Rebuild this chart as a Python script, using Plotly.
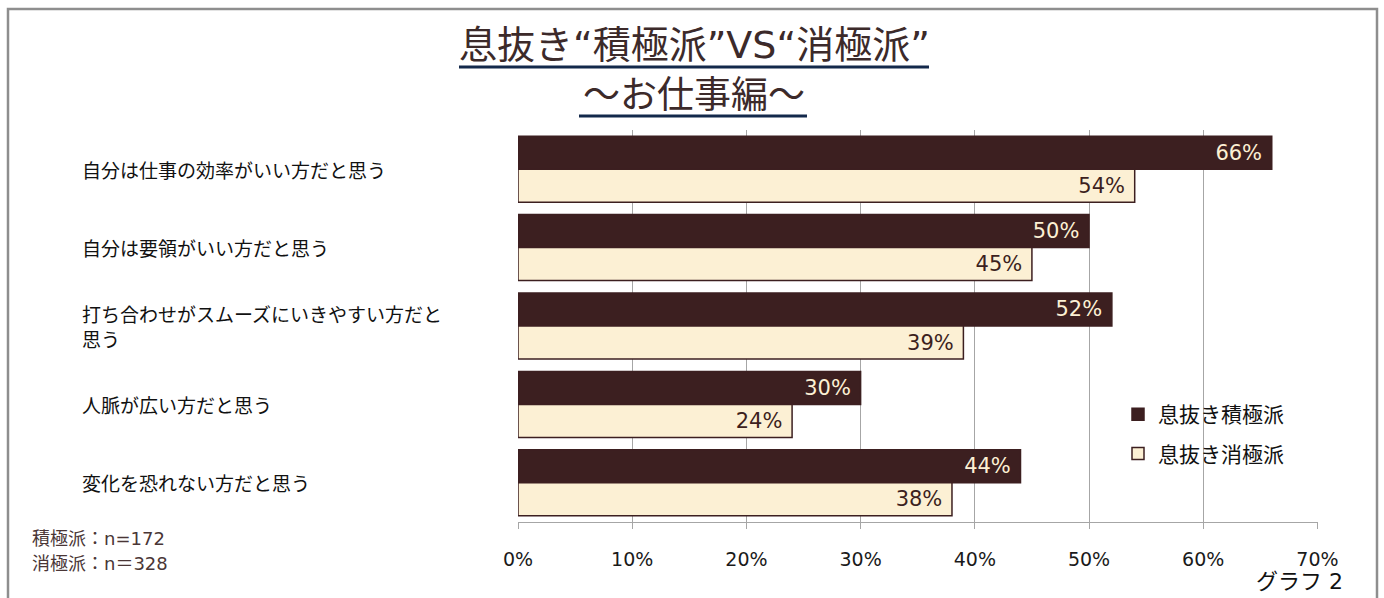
import plotly.graph_objects as go

categories = [
    "自分は仕事の効率がいい方だと思う",
    "自分は要領がいい方だと思う",
    "打ち合わせがスムーズにいきやすい方だと<br>思う",
    "人脈が広い方だと思う",
    "変化を恐れない方だと思う",
]
active_vals = [66, 50, 52, 30, 44]
passive_vals = [54, 45, 39, 24, 38]
series_names = ["息抜き積極派", "息抜き消極派"]
x_ticks = [0, 10, 20, 30, 40, 50, 60, 70]
x_tick_labels = [f"{v}%" for v in x_ticks]

DARK = "#3C1F20"
LIGHT = "#FCF0D4"
FONT = "DejaVu Sans, Noto Sans CJK JP, sans-serif"
JFONT = "Noto Sans CJK JP, DejaVu Sans, sans-serif"

# plot area in pixels
L, R, T, B = 518, 1318, 130, 522
W, H = 1384, 598


def px(x):
    return (x - L) / (R - L)


def py(y):
    return (B - y) / (B - T)


fig = go.Figure()
fig.add_trace(go.Bar(
    y=categories, x=active_vals, orientation="h", name=series_names[0],
    marker=dict(color=DARK, line=dict(color=DARK, width=1.5)),
    text=[f"{v}%\u00a0" for v in active_vals],
    textposition="inside", insidetextanchor="end",
    textfont=dict(color=LIGHT, size=21, family=FONT), constraintext="none",
    legendgroup="a",
))
fig.add_trace(go.Bar(
    y=categories, x=passive_vals, orientation="h", name=series_names[1],
    marker=dict(color=LIGHT, line=dict(color=DARK, width=1.5)),
    text=[f"{v}%\u00a0" for v in passive_vals],
    textposition="inside", insidetextanchor="end",
    textfont=dict(color=DARK, size=21, family=FONT), constraintext="none",
    legendgroup="b",
))

annotations = []
for c in categories:
    annotations.append(dict(
        x=px(80), xref="paper", y=c, yref="y", text=c, showarrow=False,
        xanchor="left", yanchor="middle", align="left",
        font=dict(size=19, color="#111111", family=JFONT),
    ))

annotations += [
    dict(x=px(694), y=py(45), xref="paper", yref="paper", showarrow=False,
         text="息抜き“積極派”VS“消極派”", xanchor="center", yanchor="middle",
         font=dict(size=38, color="#3C2A2A", family=FONT)),
    dict(x=px(694), y=py(96), xref="paper", yref="paper", showarrow=False,
         text="～お仕事編～", xanchor="center", yanchor="middle",
         font=dict(size=37, color="#3C2A2A", family=FONT)),
    dict(x=px(30), y=py(538), xref="paper", yref="paper", showarrow=False,
         text="積極派：n=172", xanchor="left", yanchor="middle",
         font=dict(size=18, color="#4A3636", family=FONT)),
    dict(x=px(30), y=py(563), xref="paper", yref="paper", showarrow=False,
         text="消極派：n＝328", xanchor="left", yanchor="middle",
         font=dict(size=18, color="#4A3636", family=FONT)),
    dict(x=px(1345), y=py(581), xref="paper", yref="paper", showarrow=False,
         text="グラフ 2", xanchor="right", yanchor="middle",
         font=dict(size=22, color="#111111", family=FONT)),
]

shapes = [
    dict(type="line", xref="paper", yref="paper", x0=px(459), x1=px(929),
         y0=py(67), y1=py(67), line=dict(color="#13294B", width=3)),
    dict(type="line", xref="paper", yref="paper", x0=px(579), x1=px(807),
         y0=py(116), y1=py(116), line=dict(color="#13294B", width=3)),
    dict(type="rect", xref="paper", yref="paper", x0=px(8), x1=px(1377),
         y0=py(640), y1=py(9), line=dict(color="#8E8E8E", width=2.5)),
]

fig.update_layout(
    width=W, height=H,
    margin=dict(l=L, r=W - R, t=T, b=H - B),
    paper_bgcolor="white", plot_bgcolor="white",
    barmode="group", bargap=0.158, bargroupgap=0,
    font=dict(family=FONT, color="#1A1A1A"),
    showlegend=True,
    legend=dict(x=px(1118), y=py(394), xanchor="left", yanchor="top",
                traceorder="grouped", tracegroupgap=9,
                font=dict(size=21, color="#111111", family=JFONT),
                bgcolor="rgba(0,0,0,0)", itemwidth=30),
    annotations=annotations,
    shapes=shapes,
)
fig.update_xaxes(
    range=[0, 70.05], tickvals=x_ticks, ticktext=x_tick_labels,
    showgrid=True, gridcolor="#A6A6A6", gridwidth=1, zeroline=False,
    showline=True, linecolor="#A6A6A6", linewidth=1,
    ticks="outside", ticklen=6, tickcolor="#A6A6A6",
    ticklabelstandoff=14,
    tickfont=dict(size=19, color="#1A1A1A", family=FONT),
)
fig.update_yaxes(
    autorange="reversed", showticklabels=False, showgrid=False,
    showline=False, zeroline=False,
)

fig.write_html("out.html")
